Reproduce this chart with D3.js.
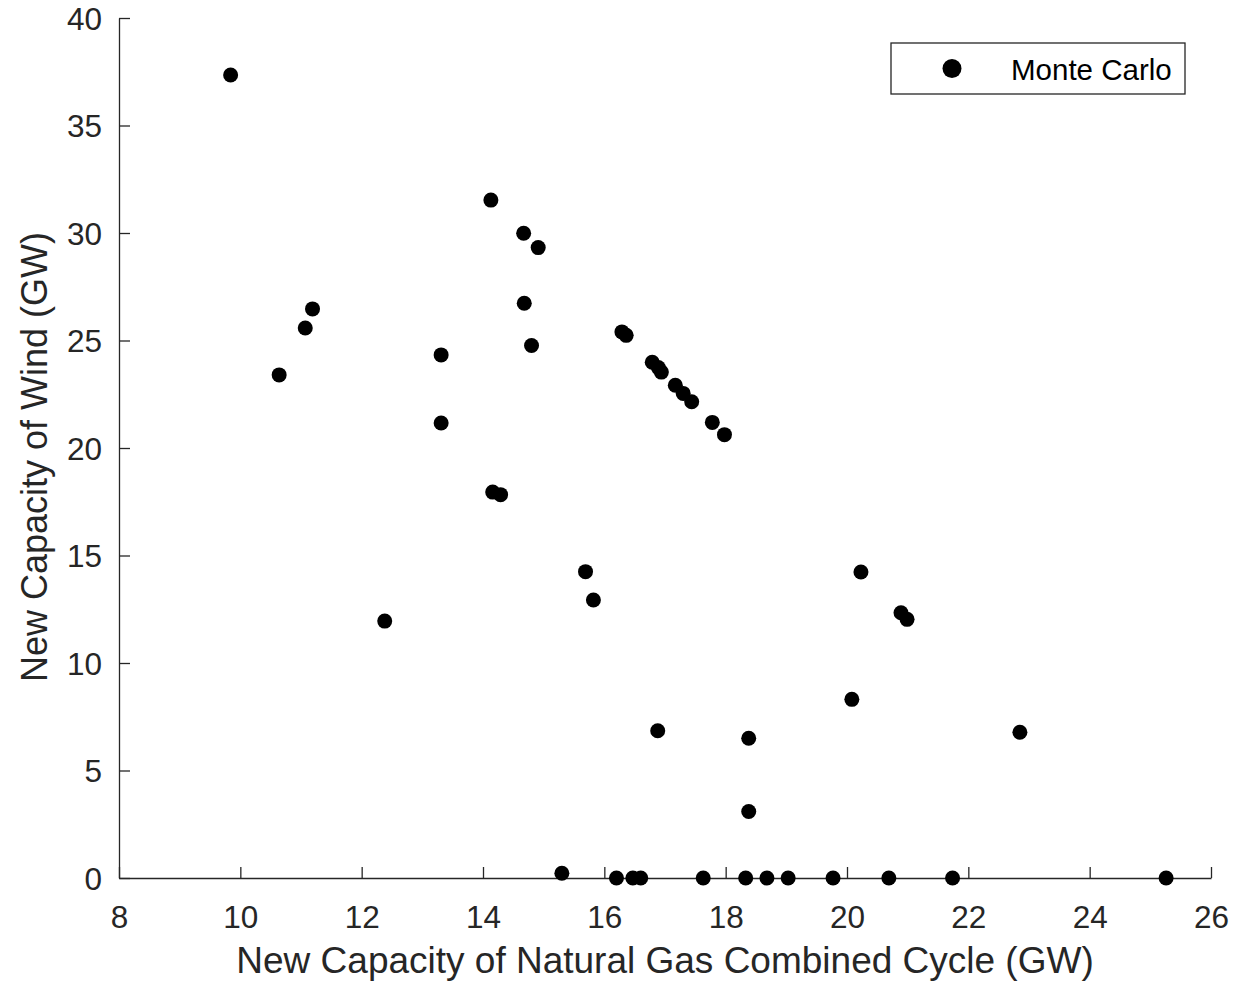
<!DOCTYPE html>
<html>
<head>
<meta charset="utf-8">
<script src="https://cdn.jsdelivr.net/npm/d3@7"></script>
<style>
  html, body { margin: 0; padding: 0; background: #fff; }
  svg text { font-family: "Liberation Sans", Arial, Helvetica, sans-serif; }
</style>
</head>
<body>
<svg id="chart" width="1234" height="985"></svg>
<script>
// New NGCC capacity (GW) for each Monte Carlo run
const ngccGW = [
  9.84, 10.64, 11.07, 11.19, 12.38, 13.31, 13.31, 14.13, 14.16, 14.29,
  14.67, 14.68, 14.80, 14.91, 15.30, 15.69, 15.82, 16.20, 16.29, 16.36,
  16.47, 16.60, 16.79, 16.88, 16.89, 16.94, 17.17, 17.30, 17.44, 17.63,
  17.78, 17.98, 18.33, 18.38, 18.38, 18.68, 19.03, 19.77, 20.08, 20.23,
  20.69, 20.89, 20.99, 21.74, 22.85, 25.26
];
// New wind capacity (GW) for the same runs
const windGW = [
  37.35, 23.40, 25.58, 26.47, 11.95, 24.33, 21.16, 31.53, 17.95, 17.83,
  29.99, 26.73, 24.77, 29.32, 0.22, 14.25, 12.93, 0.00, 25.40, 25.24,
  0.00, 0.00, 23.99, 6.85, 23.74, 23.53, 22.92, 22.54, 22.15, 0.00,
  21.19, 20.62, 0.00, 6.50, 3.09, 0.00, 0.00, 0.00, 8.31, 14.23,
  0.00, 12.34, 12.03, 0.00, 6.78, 0.00
];

const xTicks = [8, 10, 12, 14, 16, 18, 20, 22, 24, 26];
const yTicks = [0, 5, 10, 15, 20, 25, 30, 35, 40];
const seriesName = "Monte Carlo";
const xTitle = "New Capacity of Natural Gas Combined Cycle (GW)";
const yTitle = "New Capacity of Wind (GW)";

const svg = d3.select("#chart");
const plotLeft = 119, plotRight = 1211, plotTop = 18, plotBottom = 878;
const axisColor = "#262626";

const x = d3.scaleLinear().domain([8, 26]).range([plotLeft, plotRight]);
const y = d3.scaleLinear().domain([0, 40]).range([plotBottom, plotTop]);

svg.append("rect").attr("width", 1234).attr("height", 985).attr("fill", "#fff");

// Bottom axis with inward ticks
const xAxis = svg.append("g")
  .attr("transform", `translate(0,${plotBottom})`)
  .call(d3.axisBottom(x).tickValues(xTicks).tickSizeInner(-11).tickSizeOuter(0).tickPadding(0));
xAxis.select(".domain").attr("stroke", axisColor).attr("stroke-width", 1.3);
xAxis.selectAll(".tick line").attr("stroke", axisColor).attr("stroke-width", 1.3);
xAxis.selectAll(".tick text")
  .attr("fill", axisColor).attr("font-size", 31.5)
  .attr("y", 50).attr("dy", null);

// Left axis with inward ticks
const yAxis = svg.append("g")
  .attr("transform", `translate(${plotLeft},0)`)
  .call(d3.axisLeft(y).tickValues(yTicks).tickSizeInner(-11).tickSizeOuter(0).tickPadding(0));
yAxis.select(".domain").attr("stroke", axisColor).attr("stroke-width", 1.3);
yAxis.selectAll(".tick line").attr("stroke", axisColor).attr("stroke-width", 1.3);
yAxis.selectAll(".tick text")
  .attr("fill", axisColor).attr("font-size", 31.5)
  .attr("x", -17).attr("dy", "0.36em");

// Axis titles
svg.append("text")
  .attr("x", (plotLeft + plotRight) / 2).attr("y", 973)
  .attr("text-anchor", "middle").attr("font-size", 37).attr("fill", axisColor)
  .text(xTitle);
svg.append("text")
  .attr("transform", `translate(47,457) rotate(-90)`)
  .attr("text-anchor", "middle").attr("font-size", 36).attr("fill", axisColor)
  .text(yTitle);

// Scatter points
const points = ngccGW.map((v, i) => ({ x: v, y: windGW[i] }));
svg.append("g").selectAll("circle")
  .data(points)
  .join("circle")
  .attr("cx", d => x(d.x))
  .attr("cy", d => y(d.y))
  .attr("r", 7.5)
  .attr("fill", "#000");

// Legend
const legend = svg.append("g").attr("transform", "translate(891,43)");
legend.append("rect")
  .attr("width", 294).attr("height", 51)
  .attr("fill", "#fff").attr("stroke", axisColor).attr("stroke-width", 1.3);
legend.append("circle").attr("cx", 61).attr("cy", 25.5).attr("r", 9.5).attr("fill", "#000");
legend.append("text")
  .attr("x", 120).attr("y", 37)
  .attr("font-size", 29.5).attr("fill", "#000")
  .text(seriesName);
</script>
</body>
</html>
